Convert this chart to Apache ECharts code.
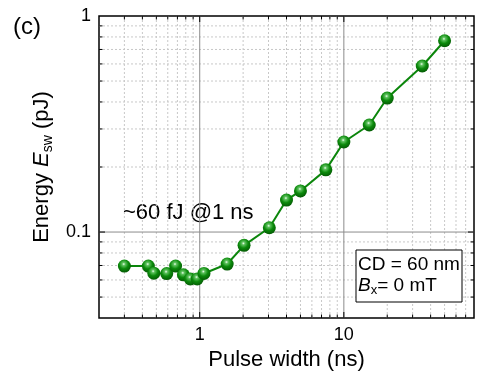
<!DOCTYPE html>
<html>
<head>
<meta charset="utf-8">
<script src="https://cdn.jsdelivr.net/npm/echarts@6/dist/echarts.min.js"></script>
<style>
  html, body { margin: 0; padding: 0; background: #fff; }
  #chart { width: 484px; height: 376px; }
</style>
</head>
<body>
<div id="chart"></div>
<script>
// pulse width (ns) and switching energy (pJ)
const pulseWidth = [0.3, 0.44, 0.48, 0.59, 0.68, 0.77, 0.86, 0.96, 1.07, 1.55, 2.03, 3.04, 4.0, 5.0, 7.5, 10, 15, 20, 35, 50]
const energy = [0.0696, 0.0696, 0.0645, 0.0642, 0.0696, 0.0634, 0.0606, 0.0606, 0.0643, 0.0711, 0.0868, 0.1047, 0.1406, 0.155, 0.194, 0.261, 0.313, 0.417, 0.587, 0.768]

// axis ranges and grid lines
const xRange = [0.2, 80]
const yRange = [0.04, 1]
const xMajor = [1, 10]
const xMinor = [0.3, 0.4, 0.5, 0.6, 0.7, 0.8, 0.9, 2, 3, 4, 5, 6, 7, 8, 9, 20, 30, 40, 50, 60, 70]
const yMajor = [0.1]
const yMinor = [0.05, 0.06, 0.07, 0.08, 0.09, 0.2, 0.3, 0.4, 0.5, 0.6, 0.7, 0.8, 0.9]

const FONT = 'Liberation Sans, Arial, sans-serif'
const chart = echarts.init(document.getElementById('chart'))

// 刻度标签只显示10的整数次幂
const decadeLabel = (v) => {
  const l = Math.log10(v)
  return Math.abs(l - Math.round(l)) < 1e-6 ? String(+v.toPrecision(6)) : ''
}

// grid line + inward ticks on both sides, drawn through the axis scale
function gridSeries(values, dir, major) {
  const lineStyle = major
    ? { stroke: '#8c8c8c', lineWidth: 1 }
    : { stroke: '#c8c8c8', lineWidth: 1, lineDash: [2, 2] }
  const tickLen = major ? 6 : 3.5
  return {
    type: 'custom',
    silent: true,
    z: 1,
    data: values.map((v) => (dir === 'x' ? [v, yRange[0]] : [xRange[0], v])),
    renderItem(params, api) {
      let a, b, t1, t2
      if (dir === 'x') {
        const v = api.value(0)
        a = api.coord([v, yRange[0]])
        b = api.coord([v, yRange[1]])
        t1 = [a[0], a[1] - tickLen]
        t2 = [b[0], b[1] + tickLen]
      } else {
        const v = api.value(1)
        a = api.coord([xRange[0], v])
        b = api.coord([xRange[1], v])
        t1 = [a[0] + tickLen, a[1]]
        t2 = [b[0] - tickLen, b[1]]
      }
      const tick = { stroke: '#000', lineWidth: 1 }
      return {
        type: 'group',
        children: [
          { type: 'line', shape: { x1: a[0], y1: a[1], x2: b[0], y2: b[1] }, style: lineStyle },
          { type: 'line', shape: { x1: a[0], y1: a[1], x2: t1[0], y2: t1[1] }, style: tick },
          { type: 'line', shape: { x1: b[0], y1: b[1], x2: t2[0], y2: t2[1] }, style: tick }
        ]
      }
    }
  }
}

const option = {
  animation: false,
  backgroundColor: '#fff',
  grid: {
    left: 99,
    top: 16,
    right: 10,
    bottom: 58,
    show: true,
    borderColor: '#000',
    borderWidth: 1.5,
    backgroundColor: 'transparent'
  },
  xAxis: {
    type: 'log',
    logBase: 10,
    min: xRange[0],
    max: xRange[1],
    axisLine: { show: false },
    axisTick: { show: false },
    splitLine: { show: false },
    axisLabel: {
      formatter: decadeLabel,
      fontSize: 18,
      color: '#000',
      fontFamily: FONT,
      margin: 8,
      hideOverlap: false
    },
    name: 'Pulse width (ns)',
    nameLocation: 'middle',
    nameGap: 31,
    nameTextStyle: { fontSize: 22, color: '#000', fontFamily: FONT }
  },
  yAxis: {
    type: 'log',
    logBase: 10,
    min: yRange[0],
    max: yRange[1],
    axisLine: { show: false },
    axisTick: { show: false },
    splitLine: { show: false },
    axisLabel: {
      formatter: decadeLabel,
      fontSize: 18,
      color: '#000',
      fontFamily: FONT,
      margin: 8,
      showMinLabel: true,
      showMaxLabel: true,
      hideOverlap: false
    },
    name: '{a|Energy }{i|E}{s|sw}{a| (pJ)}',
    nameLocation: 'middle',
    nameGap: 39,
    nameTextStyle: {
      color: '#000',
      fontFamily: FONT,
      rich: {
        a: { fontSize: 22, lineHeight: 26, fontFamily: FONT, color: '#000' },
        i: { fontSize: 22, lineHeight: 26, fontStyle: 'italic', fontFamily: FONT, color: '#000' },
        s: { fontSize: 14, lineHeight: 8, verticalAlign: 'bottom', fontFamily: FONT, color: '#000' }
      }
    }
  },
  series: [
    gridSeries(xMinor, 'x', false),
    gridSeries(yMinor, 'y', false),
    gridSeries(xMajor, 'x', true),
    gridSeries(yMajor, 'y', true),
    {
      type: 'line',
      z: 5,
      data: pulseWidth.map((x, i) => [x, energy[i]]),
      symbol: 'circle',
      symbolSize: 13,
      lineStyle: { color: '#0b860b', width: 2 },
      itemStyle: {
        color: {
          type: 'radial',
          x: 0.45,
          y: 0.35,
          r: 0.65,
          colorStops: [
            { offset: 0, color: '#f2fff2' },
            { offset: 0.18, color: '#5fc25f' },
            { offset: 0.55, color: '#0b8a0b' },
            { offset: 1, color: '#045a04' }
          ]
        },
        borderWidth: 0
      }
    }
  ],
  graphic: [
    {
      type: 'text',
      left: 13,
      top: 15,
      style: { text: '(c)', fontSize: 24, fontFamily: FONT, fill: '#000' }
    },
    {
      type: 'text',
      left: 123,
      top: 202,
      style: { text: '~60 fJ @1 ns', fontSize: 22, fontFamily: FONT, fill: '#000' }
    },
    {
      type: 'rect',
      shape: { x: 356, y: 250, width: 106, height: 52 },
      style: { fill: '#fff', stroke: '#000', lineWidth: 1 },
      z: 10
    },
    {
      type: 'text',
      left: 358,
      top: 255,
      z: 11,
      style: { text: 'CD = 60 nm', fontSize: 19, fontFamily: FONT, fill: '#000' }
    },
    {
      type: 'text',
      left: 358,
      top: 276,
      z: 11,
      style: {
        text: '{i|B}{s|x}{a|= 0 mT}',
        rich: {
          a: { fontSize: 19, lineHeight: 23, fontFamily: FONT, fill: '#000' },
          i: { fontSize: 19, lineHeight: 23, fontStyle: 'italic', fontFamily: FONT, fill: '#000' },
          s: { fontSize: 13, lineHeight: 6, verticalAlign: 'bottom', fontFamily: FONT, fill: '#000' }
        }
      }
    }
  ]
}

chart.setOption(option)
</script>
</body>
</html>
